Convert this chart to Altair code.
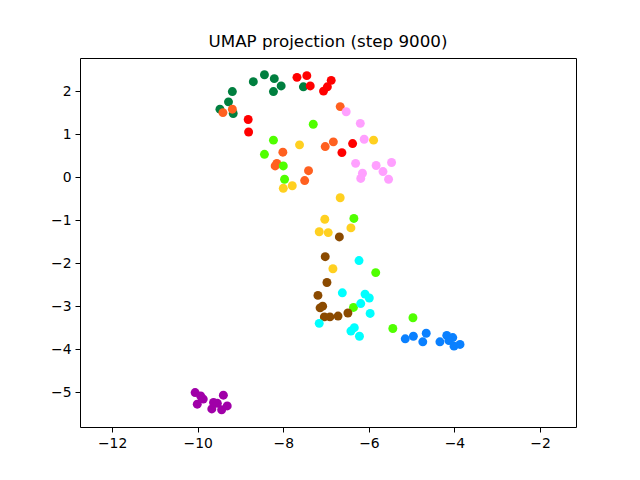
import altair as alt
import pandas as pd

classes = ["c0", "c1", "c2", "c3", "c4", "c5", "c6", "c7", "c8", "c9"]
colors = ["#007f3f", "#ff0000", "#ff6020", "#ffa0ff", "#ffd020",
          "#50ff00", "#8b4a00", "#00ffff", "#0a80ff", "#a000a8"]

x_c0 = [-8.44, -8.21, -8.70, -8.05, -8.23, -7.53, -9.19, -9.28, -9.48, -9.17]
y_c0 = [2.38, 2.29, 2.22, 2.12, 1.99, 2.10, 1.99, 1.75, 1.58, 1.48]
x_c1 = [-7.68, -7.45, -7.37, -6.88, -6.97, -7.06, -8.82, -8.81, -6.63, -6.38]
y_c1 = [2.32, 2.36, 2.12, 2.25, 2.10, 2.00, 1.34, 1.05, 0.57, 0.78]
x_c2 = [-9.41, -9.19, -6.67, -8.01, -8.15, -8.19, -7.41, -7.50, -7.02, -6.83]
y_c2 = [1.50, 1.58, 1.64, 0.58, 0.32, 0.26, 0.15, -0.08, 0.71, 0.82]
x_c3 = [-6.53, -6.20, -6.11, -6.31, -6.15, -6.19, -5.83, -5.67, -5.47, -5.54]
y_c3 = [1.52, 1.25, 0.88, 0.32, 0.09, -0.03, 0.27, 0.13, 0.34, -0.05]
x_c4 = [-7.62, -5.89, -8.00, -7.79, -6.67, -7.03, -7.16, -6.95, -6.42, -6.84]
y_c4 = [0.75, 0.86, -0.26, -0.20, -0.48, -0.98, -1.27, -1.29, -1.18, -2.13]
x_c5 = [-7.30, -8.23, -8.44, -8.00, -7.97, -6.35, -5.84, -6.36, -4.97, -5.44]
y_c5 = [1.23, 0.86, 0.53, 0.26, -0.05, -0.96, -2.22, -3.03, -3.27, -3.52]
x_c6 = [-6.69, -7.02, -6.98, -7.19, -7.08, -7.14, -7.04, -6.91, -6.72, -6.49]
y_c6 = [-1.39, -1.85, -2.45, -2.75, -3.00, -3.04, -3.25, -3.25, -3.23, -3.16]
x_c7 = [-6.23, -6.62, -6.09, -5.99, -6.19, -5.97, -7.16, -6.34, -6.42, -6.22]
y_c7 = [-1.94, -2.69, -2.72, -2.81, -2.94, -3.17, -3.40, -3.50, -3.58, -3.70]
x_c8 = [-5.15, -4.96, -4.66, -4.74, -4.34, -4.18, -4.04, -4.01, -3.87, -4.13]
y_c8 = [-3.76, -3.70, -3.63, -3.83, -3.83, -3.68, -3.73, -3.93, -3.89, -3.80]
x_c9 = [-10.06, -9.93, -9.87, -10.01, -9.63, -9.54, -9.67, -9.40, -9.44, -9.31]
y_c9 = [-5.01, -5.09, -5.16, -5.28, -5.24, -5.26, -5.39, -5.07, -5.41, -5.32]

xs = [x_c0, x_c1, x_c2, x_c3, x_c4, x_c5, x_c6, x_c7, x_c8, x_c9]
ys = [y_c0, y_c1, y_c2, y_c3, y_c4, y_c5, y_c6, y_c7, y_c8, y_c9]

x_ticks = [-12, -10, -8, -6, -4, -2]
y_ticks = [-5, -4, -3, -2, -1, 0, 1, 2]

rows = []
k = 0
for c, xl, yl in zip(classes, xs, ys):
    for xv, yv in zip(xl, yl):
        rows.append({"cls": c, "x": xv, "y": yv, "ord": k})
        k += 1
df = pd.DataFrame(rows)

font = "DejaVu Sans"

chart = alt.Chart(df).mark_circle(size=80, opacity=1).encode(
    x=alt.X("x:Q", scale=alt.Scale(domain=[-12.75, -1.16], nice=False, zero=False),
            axis=alt.Axis(values=x_ticks, title=None, grid=False, format="d")),
    y=alt.Y("y:Q", scale=alt.Scale(domain=[-5.81, 2.77], nice=False, zero=False),
            axis=alt.Axis(values=y_ticks, title=None, grid=False, format="d")),
    color=alt.Color("cls:N", scale=alt.Scale(domain=classes, range=colors), legend=None),
    order=alt.Order("ord:Q"),
).properties(
    width=496, height=369,
    title=alt.TitleParams("UMAP projection (step 9000)", font=font, fontSize=16.7,
                          fontWeight="normal", color="black", offset=7),
    autosize="none",
    padding={"left": 80, "top": 58, "right": 64, "bottom": 53},
).configure_view(
    stroke="black", strokeWidth=1
).configure_axis(
    domain=False, tickColor="black", tickSize=5, tickWidth=1,
    labelFont=font, labelFontSize=13.9, labelColor="black", labelPadding=4,
)

chart.save("out.html", embed_options={"renderer": "svg", "actions": False})
